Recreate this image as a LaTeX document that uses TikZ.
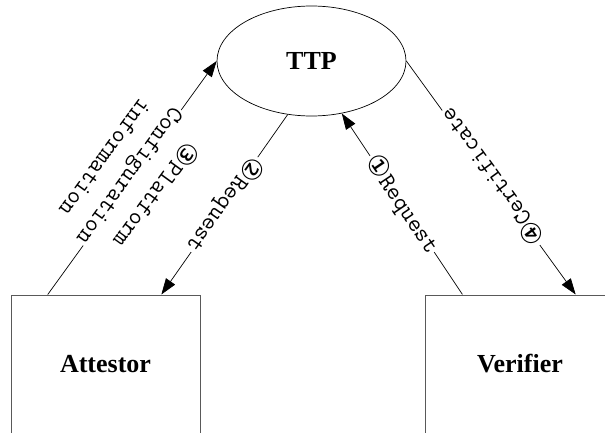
\documentclass[tikz,border=0pt]{standalone}
\usepackage{fontspec}
\setmainfont{Liberation Serif}
\newfontfamily\circf{DejaVu Sans}
\newcommand\circnum[1]{{\circf\fontsize{27}{31}\selectfont #1}}
\usetikzlibrary{arrows.meta,calc,shapes.geometric}
\begin{document}
\begin{tikzpicture}[x=1pt,y=1pt,
  ent/.style={draw=black!65, line width=1pt, minimum width=189pt, minimum height=138pt, inner sep=0pt,
    font=\fontsize{26}{30}\selectfont\bfseries},
  ttpnode/.style={draw, ellipse, minimum width=189pt, minimum height=110pt, inner sep=0pt, line width=0.7pt,
    font=\fontsize{26}{30}\selectfont\bfseries},
  conn/.style={line width=0.7pt, -{Triangle[length=16pt,width=11pt]}},
  lbl/.style={fill=white, inner sep=1.5pt, font=\ttfamily\fontsize{24.5}{31}\selectfont, align=center, midway}
]
\useasboundingbox (0,0) rectangle (605,432);
\clip (0,0) rectangle (605,432);
\node[ttpnode] (ttp) at (311.5,371) {TTP};
\node[ent] (att) at (105.5,68) {Attestor};
\node[ent] (ver) at (520,68) {Verifier};
\draw[conn] ($(att.north west)!0.196!(att.north east)$) -- (ttp.west)
  node[lbl, rotate=234] {\circnum{③}Platform\\Configuration\\information};
\draw[conn] (ttp.246) -- ($(att.north west)!0.794!(att.north east)$)
  node[lbl, rotate=234.7] {\circnum{②}Request};
\draw[conn] ($(ver.north west)!0.197!(ver.north east)$) -- (ttp.300)
  node[lbl, rotate=-56] {\circnum{①}Request};
\draw[conn] (ttp.east) -- ($(ver.north west)!0.793!(ver.north east)$)
  node[lbl, rotate=126] {\circnum{④}Certificate};
\end{tikzpicture}
\end{document}
